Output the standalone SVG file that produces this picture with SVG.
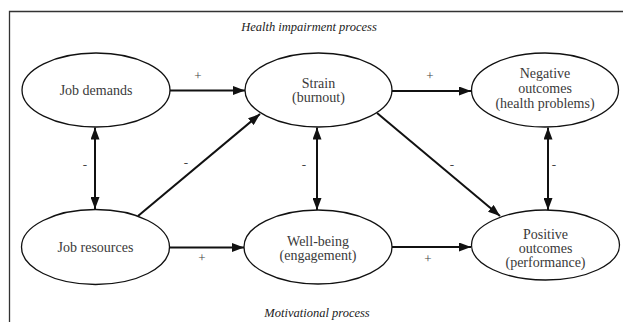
<svg xmlns="http://www.w3.org/2000/svg" width="623" height="322" viewBox="0 0 623 322">
<defs>
<marker id="ah" viewBox="0 0 12 9" refX="12" refY="4.5" markerWidth="12" markerHeight="9" markerUnits="userSpaceOnUse" orient="auto-start-reverse">
<path d="M0,0 L12,4.5 L0,9 z" fill="#111"/>
</marker>
</defs>
<rect width="623" height="322" fill="#fff"/>
<g id="frame" fill="none" stroke="#333" stroke-width="1.3">
<path d="M9.5,322 V11.5 H623"/>
</g>
<g id="titles" font-family="Liberation Serif" font-size="12.5" font-style="italic" fill="#222" text-anchor="middle">
<text x="309" y="31">Health impairment process</text>
<text x="317" y="317">Motivational process</text>
</g>
<g id="connectors" stroke="#111" stroke-width="2">
<line x1="170" y1="90.5" x2="245" y2="90.5" marker-end="url(#ah)"/>
<line x1="392" y1="91" x2="471" y2="91" marker-end="url(#ah)"/>
<line x1="170" y1="247.5" x2="244" y2="247.5" marker-end="url(#ah)"/>
<line x1="392" y1="247" x2="471" y2="247" marker-end="url(#ah)"/>
<line x1="95" y1="127.5" x2="95" y2="209" marker-start="url(#ah)" marker-end="url(#ah)"/>
<line x1="317" y1="127.5" x2="317" y2="210" marker-start="url(#ah)" marker-end="url(#ah)"/>
<line x1="548" y1="127.5" x2="548" y2="210" marker-start="url(#ah)" marker-end="url(#ah)"/>
<line x1="138" y1="216" x2="260" y2="114" marker-end="url(#ah)"/>
<line x1="377" y1="113" x2="500" y2="216" marker-end="url(#ah)"/>
</g>
<g id="connector-labels" font-family="Liberation Serif" font-size="13" fill="#444" text-anchor="middle">
<text x="198" y="80">+</text>
<text x="430" y="80">+</text>
<text x="202" y="262">+</text>
<text x="428" y="263">+</text>
<text x="85" y="169">-</text>
<text x="186" y="167">-</text>
<text x="304" y="169">-</text>
<text x="452" y="169">-</text>
<text x="554" y="169">-</text>
</g>
<g id="nodes" fill="#fff" stroke="#111" stroke-width="1.3">
<ellipse id="e-jd" cx="96" cy="90" rx="74" ry="37"/>
<ellipse id="e-st" cx="318.5" cy="90" rx="73.5" ry="37"/>
<ellipse id="e-neg" cx="545" cy="90" rx="73.5" ry="37"/>
<ellipse id="e-jr" cx="95.5" cy="247" rx="74" ry="37.5"/>
<ellipse id="e-wb" cx="318" cy="247" rx="74" ry="37"/>
<ellipse id="e-pos" cx="545.5" cy="245" rx="74" ry="35"/>
</g>
<g font-family="Liberation Serif" font-size="14" fill="#3a3a3a" text-anchor="middle">
<g id="job-demands">
<text x="96" y="95">Job demands</text>
</g>
<g id="strain">
<text x="318.5" y="87.5">Strain</text>
<text x="318.5" y="101.5">(burnout)</text>
</g>
<g id="negative-outcomes">
<text x="545" y="77.5">Negative</text>
<text x="545" y="92.5">outcomes</text>
<text x="545" y="107.5">(health problems)</text>
</g>
<g id="job-resources">
<text x="95.5" y="252">Job resources</text>
</g>
<g id="well-being">
<text x="318" y="245.5">Well-being</text>
<text x="318" y="260">(engagement)</text>
</g>
<g id="positive-outcomes">
<text x="545.5" y="238.5">Positive</text>
<text x="545.5" y="252.5">outcomes</text>
<text x="545.5" y="267">(performance)</text>
</g>
</g>
</svg>
